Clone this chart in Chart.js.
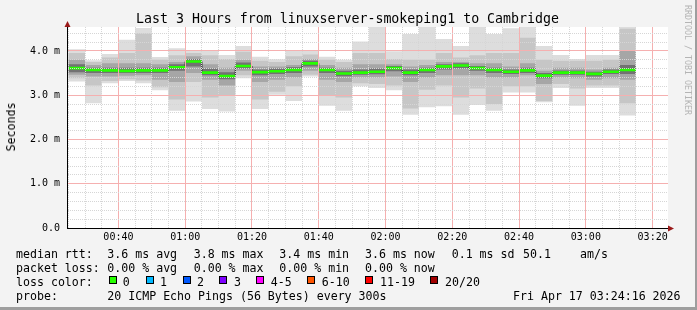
<!DOCTYPE html>
<html>
<head>
<meta charset="utf-8">
<title>Last 3 Hours from linuxserver-smokeping1 to Cambridge</title>
<script src="https://cdn.jsdelivr.net/npm/chart.js@4.4.1/dist/chart.umd.min.js"></script>
<style>
    html, body { margin: 0; padding: 0; background: #f3f3f3; }
    #graph {
        position: relative;
        width: 697px;
        height: 310px;
        background: #f3f3f3;
        overflow: hidden;
        font-family: "DejaVu Sans Mono", monospace;
        color: #000;
    }
    #graph canvas { position: absolute; left: 0; top: 0; }
    .txt { position: absolute; white-space: pre; font-size: 11.6px; line-height: 14px; }
    .title { position: absolute; left: 0; width: 695px; top: 11px; text-align: center; font-size: 13.25px; line-height: 16px; white-space: pre; }
    .ylabel { position: absolute; left: 11px; top: 127px; transform: translate(-50%, -50%) rotate(-90deg); font-size: 11.6px; white-space: pre; }
    .mark { position: absolute; left: 688px; top: 60px; transform: translate(-50%, -50%) rotate(90deg); font-size: 8.3px; color: #b4b4b4; white-space: pre; }
    .sq { position: absolute; top: 276px; width: 8px; height: 8px; box-sizing: border-box; border: 1px solid #000; }
    .edge-r { position: absolute; right: 0; top: 0; width: 2px; height: 310px; background: #9e9e9e; }
    .edge-b { position: absolute; left: 0; bottom: 0; width: 697px; height: 3px; background: #9e9e9e; }
</style>
</head>
<body>
<div id="graph">
    <canvas id="chart" width="697" height="310"></canvas>
    <div class="title">Last 3 Hours from linuxserver-smokeping1 to Cambridge</div>
    <div class="ylabel">Seconds</div>
    <div class="mark">RRDTOOL / TOBI OETIKER</div>
    <div id="legend"></div>
    <div class="edge-r"></div>
    <div class="edge-b"></div>
</div>
<script>
// --- time window (minutes after 00:00) ---
const X_MIN = 24.6;
const X_MAX = 204.6;
const BIN_START = 25;     // first 5 min bin, 00:25
const BIN_STEP = 5;
const Y_MAX = 4.54;       // ms

// --- smoke: sorted ping quantiles per 5 min bin (ms) ---
const pingMax  = [4.04, 3.79, 3.93, 4.25, 4.52, 3.86, 4.06, 4.00, 4.02, 3.91, 4.11, 3.87, 3.81, 4.00, 4.00, 3.87, 3.80,
                  4.21, 4.54, 3.99, 4.38, 4.54, 4.27, 4.11, 4.54, 4.38, 4.51, 4.54, 4.11, 3.91, 3.82, 3.91, 3.91, 4.54];
const smokeHi2 = [3.95, 3.75, 3.85, 3.95, 4.40, 3.80, 3.90, 3.95, 3.90, 3.82, 3.98, 3.78, 3.75, 3.88, 3.92, 3.80, 3.75,
                  3.95, 3.95, 3.82, 3.80, 3.80, 3.95, 3.85, 3.90, 3.95, 3.95, 4.30, 3.80, 3.78, 3.78, 3.78, 3.80, 4.50];
const smokeHi3 = [3.80, 3.68, 3.72, 3.72, 3.72, 3.70, 3.75, 3.88, 3.70, 3.62, 3.80, 3.65, 3.65, 3.68, 3.82, 3.68, 3.62,
                  3.70, 3.70, 3.70, 3.65, 3.68, 3.75, 3.75, 3.72, 3.72, 3.65, 3.72, 3.55, 3.62, 3.62, 3.58, 3.62, 4.00];
const smokeHi4 = [3.70, 3.62, 3.62, 3.62, 3.62, 3.62, 3.70, 3.82, 3.60, 3.52, 3.74, 3.58, 3.60, 3.63, 3.78, 3.62, 3.55,
                  3.58, 3.60, 3.66, 3.58, 3.62, 3.70, 3.72, 3.66, 3.62, 3.58, 3.62, 3.50, 3.56, 3.56, 3.53, 3.58, 3.68];
const medianRtt = [3.61, 3.57, 3.56, 3.55, 3.56, 3.56, 3.63, 3.76, 3.51, 3.43, 3.66, 3.52, 3.54, 3.57, 3.72, 3.57, 3.49,
                   3.51, 3.53, 3.61, 3.51, 3.57, 3.65, 3.67, 3.61, 3.57, 3.53, 3.56, 3.44, 3.51, 3.51, 3.48, 3.53, 3.57];
const smokeLo4 = [3.52, 3.50, 3.50, 3.50, 3.50, 3.50, 3.55, 3.65, 3.45, 3.36, 3.60, 3.45, 3.48, 3.50, 3.65, 3.50, 3.43,
                  3.46, 3.47, 3.54, 3.45, 3.50, 3.58, 3.60, 3.55, 3.50, 3.48, 3.50, 3.38, 3.46, 3.46, 3.42, 3.48, 3.48];
const smokeLo3 = [3.46, 3.42, 3.42, 3.44, 3.45, 3.35, 3.30, 3.50, 3.35, 3.22, 3.55, 3.30, 3.35, 3.40, 3.55, 3.35, 3.30,
                  3.40, 3.40, 3.42, 3.30, 3.40, 3.45, 3.45, 3.45, 3.40, 3.40, 3.45, 3.25, 3.40, 3.38, 3.35, 3.38, 3.35];
const smokeLo2 = [3.38, 3.22, 3.32, 3.36, 3.33, 3.18, 2.90, 3.30, 2.95, 3.00, 3.45, 2.90, 3.08, 3.20, 3.46, 3.00, 2.95,
                  3.27, 3.25, 3.22, 2.70, 3.12, 3.22, 2.95, 3.15, 2.80, 3.20, 3.20, 2.87, 3.25, 3.15, 3.22, 3.22, 2.82];
const pingMin  = [3.31, 2.82, 3.27, 3.32, 3.27, 3.11, 2.65, 2.86, 2.69, 2.63, 3.38, 2.69, 3.01, 2.87, 3.42, 2.76, 2.65,
                  3.20, 3.16, 3.11, 2.56, 2.73, 2.75, 2.56, 2.78, 2.65, 3.06, 3.06, 2.84, 3.16, 2.76, 3.16, 3.16, 2.54];

// --- axes ---
const yTickValues = [0, 0.2, 0.4, 0.6, 0.8, 1, 1.2, 1.4, 1.6, 1.8, 2, 2.2, 2.4, 2.6, 2.8, 3, 3.2, 3.4, 3.6, 3.8, 4, 4.2, 4.4];
const yTickLabels = { 0: '0.0', 1: '1.0 m', 2: '2.0 m', 3: '3.0 m', 4: '4.0 m' };
const xTickLabels = { 40: '00:40', 60: '01:00', 80: '01:20', 100: '01:40', 120: '02:00',
                      140: '02:20', 160: '02:40', 180: '03:00', 200: '03:20' };

// --- legend ---
const lossColors = [
    { label: '0', color: '#26ff00', sq: 109, tx: 122.7 },
    { label: '1', color: '#00b8ff', sq: 145.5, tx: 160 },
    { label: '2', color: '#0059ff', sq: 182.5, tx: 197 },
    { label: '3', color: '#7e00ff', sq: 219, tx: 234 },
    { label: '4-5', color: '#ff00ff', sq: 256, tx: 270.7 },
    { label: '6-10', color: '#ff5500', sq: 307.3, tx: 321.7 },
    { label: '11-19', color: '#ff0000', sq: 365, tx: 380 },
    { label: '20/20', color: '#a10000', sq: 430.3, tx: 445 }
];
const legendRows = [
    [[16, 'median rtt:'], [107.3, '3.6 ms avg'], [193.7, '3.8 ms max'], [279.3, '3.4 ms min'],
     [365, '3.6 ms now'], [451.7, '0.1 ms sd'], [523, '50.1'], [580, 'am/s']],
    [[16, 'packet loss:'], [107.3, '0.00 % avg'], [193.7, '0.00 % max'], [279.3, '0.00 % min'], [365, '0.00 % now']],
    [[16, 'loss color:']],
    [[16, 'probe:'], [107.3, '20 ICMP Echo Pings (56 Bytes) every 300s'], [513, 'Fri Apr 17 03:24:16 2026']]
];

const MEDIAN_HALF = 0.03;  // half thickness of the coloured median band
const MINOR_GRID = '#d6d6d6';
const MAJOR_GRID = '#f5b0b0';

// --- Helpers ---
function stepSeries(values) {
    const pts = values.map((v, i) => ({ x: Math.max(X_MIN, BIN_START + i * BIN_STEP), y: v }));
    pts.push({ x: BIN_START + values.length * BIN_STEP, y: values[values.length - 1] });
    return pts;
}

function lineSet(values, extra) {
    return Object.assign({
        data: stepSeries(values),
        stepped: true,
        borderWidth: 0,
        pointRadius: 0,
        fill: false
    }, extra);
}

function isMajorY(v) {
    return Math.abs(v - Math.round(v)) < 1e-6 && yTickLabels[Math.round(v)] !== undefined;
}

function isMajorX(v) {
    return xTickLabels[Math.round(v)] !== undefined && Math.abs(v - Math.round(v)) < 1e-6;
}

function buildLegend() {
    const box = document.getElementById('legend');
    let html = '';
    legendRows.forEach((row, r) => {
        row.forEach(([x, text]) => {
            html += `<div class="txt" style="left:${x}px;top:${247 + r * 14}px">${text}</div>`;
        });
    });
    lossColors.forEach(c => {
        html += `<div class="sq" style="left:${c.sq}px;background:${c.color}"></div>`;
        html += `<div class="txt" style="left:${c.tx}px;top:275px">${c.label}</div>`;
    });
    box.innerHTML = html;
}

// white plot area + axis arrows
const plotFrame = {
    id: 'plotFrame',
    beforeDraw(chart) {
        const { ctx, chartArea: a } = chart;
        ctx.save();
        ctx.fillStyle = '#ffffff';
        ctx.fillRect(a.left, a.top, a.right - a.left, a.bottom - a.top);
        ctx.restore();
    },
    afterDraw(chart) {
        const { ctx, chartArea: a } = chart;
        const ax = Math.round(a.left) + 0.5;
        const ay = Math.round(a.bottom) + 0.5;
        ctx.save();
        ctx.fillStyle = '#9a1a1a';
        ctx.beginPath();
        ctx.moveTo(ax - 3, a.top);
        ctx.lineTo(ax + 3, a.top);
        ctx.lineTo(ax, a.top - 6);
        ctx.closePath();
        ctx.fill();
        ctx.beginPath();
        ctx.moveTo(a.right, ay - 3);
        ctx.lineTo(a.right, ay + 3);
        ctx.lineTo(a.right + 6, ay);
        ctx.closePath();
        ctx.fill();
        ctx.restore();
    }
};

const tickFont = { family: '"DejaVu Sans Mono", monospace', size: 10 };

new Chart(document.getElementById('chart'), {
    type: 'line',
    data: {
        datasets: [
            lineSet(medianRtt.map(v => v + MEDIAN_HALF), { fill: '+1', backgroundColor: lossColors[0].color }),
            lineSet(medianRtt.map(v => v - MEDIAN_HALF)),
            lineSet(medianRtt, { borderWidth: 1, borderColor: '#202020' }),
            lineSet(smokeHi4, { fill: '+1', backgroundColor: '#727272' }),
            lineSet(smokeLo4),
            lineSet(smokeHi3, { fill: '+1', backgroundColor: '#a6a6a6' }),
            lineSet(smokeLo3),
            lineSet(smokeHi2, { fill: '+1', backgroundColor: '#c6c6c6' }),
            lineSet(smokeLo2),
            lineSet(pingMax, { fill: '+1', backgroundColor: '#dddddd' }),
            lineSet(pingMin)
        ]
    },
    options: {
        responsive: false,
        animation: false,
        devicePixelRatio: 1,
        layout: { padding: { left: 0, top: 27, right: 29, bottom: 62 } },
        plugins: {
            legend: { display: false },
            tooltip: { enabled: false },
            title: { display: false }
        },
        scales: {
            x: {
                type: 'linear',
                min: X_MIN,
                max: X_MAX,
                afterBuildTicks: scale => {
                    const ticks = [];
                    for (let m = BIN_START; m <= X_MAX; m += BIN_STEP) ticks.push({ value: m });
                    scale.ticks = ticks;
                },
                afterFit: scale => { scale.height = 20; },
                grid: {
                    color: c => (c.tick && isMajorX(c.tick.value)) ? MAJOR_GRID : MINOR_GRID,
                    lineWidth: 1,
                    drawTicks: false,
                    z: 1
                },
                border: {
                    display: true, color: '#000', width: 1, z: 2,
                    dash: c => (c.tick && isMajorX(c.tick.value)) ? [] : [1, 1]
                },
                ticks: {
                    autoSkip: false,
                    maxRotation: 0,
                    padding: 3,
                    color: '#000',
                    font: tickFont,
                    callback: v => isMajorX(v) ? xTickLabels[Math.round(v)] : ''
                }
            },
            y: {
                type: 'linear',
                min: 0,
                max: Y_MAX,
                afterBuildTicks: scale => {
                    scale.ticks = yTickValues.map(v => ({ value: v }));
                },
                afterFit: scale => { scale.width = 67; },
                grid: {
                    color: c => (c.tick && isMajorY(c.tick.value)) ? MAJOR_GRID : MINOR_GRID,
                    lineWidth: 1,
                    drawTicks: false,
                    z: 1
                },
                border: {
                    display: true, color: '#000', width: 1, z: 2,
                    dash: c => (c.tick && isMajorY(c.tick.value)) ? [] : [1, 1]
                },
                ticks: {
                    autoSkip: false,
                    padding: 7,
                    color: '#000',
                    font: tickFont,
                    callback: v => isMajorY(v) ? yTickLabels[Math.round(v)] : ''
                }
            }
        }
    },
    plugins: [plotFrame]
});

buildLegend();
</script>
</body>
</html>
